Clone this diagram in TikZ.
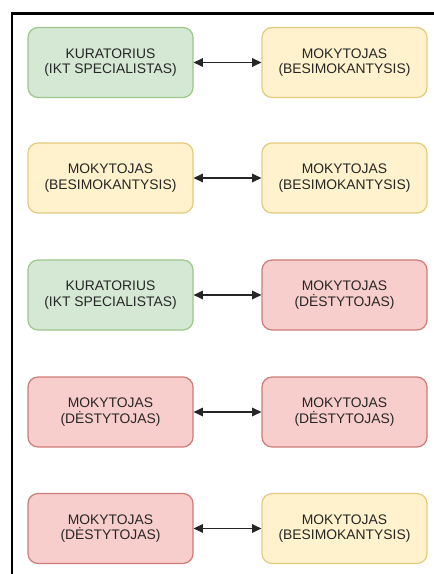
\documentclass[tikz,border=0pt]{standalone}
\usepackage{fontspec}
\setmainfont{Liberation Sans}
\usetikzlibrary{arrows.meta}
\definecolor{gfill}{HTML}{D5E8D4}\definecolor{gdraw}{HTML}{9CC68A}
\definecolor{yfill}{HTML}{FFF2CC}\definecolor{ydraw}{HTML}{E3CB7E}
\definecolor{rfill}{HTML}{F8CECC}\definecolor{rdraw}{HTML}{CC7D7A}
\definecolor{txt}{HTML}{262626}
\tikzset{
  role/.style={rectangle, rounded corners=10*0.75pt, line width=0.9pt,
    minimum width=165*0.75pt, minimum height=70*0.75pt, align=center,
    text=txt, font=\fontsize{10.4}{11.6}\selectfont, inner sep=0pt},
  kur/.style={role, fill=gfill, draw=gdraw},
  bes/.style={role, fill=yfill, draw=ydraw},
  des/.style={role, fill=rfill, draw=rdraw},
  link/.style={{Triangle[length=7pt,width=6.5pt]}-{Triangle[length=7pt,width=6.5pt]}, line width=0.9pt, draw=black!85},
}
\begin{document}
\begin{tikzpicture}[x=0.75pt,y=-0.75pt]
\useasboundingbox (0,0) rectangle (434,574);
% page frame
\coordinate (fl) at (12,574);
\coordinate (fc) at (12,13.5);
\coordinate (fr) at (434,13.5);
\draw[line width=1.7pt] (fl) -- (fc) -- (fr);
% rows
\node[kur] (a1) at (110.5,62.5) {KURATORIUS\\(IKT SPECIALISTAS)};
\node[bes] (b1) at (344.5,62.5) {MOKYTOJAS\\(BESIMOKANTYSIS)};
\node[bes] (a2) at (110.5,178) {MOKYTOJAS\\(BESIMOKANTYSIS)};
\node[bes] (b2) at (344.5,178) {MOKYTOJAS\\(BESIMOKANTYSIS)};
\node[kur] (a3) at (110.5,295) {KURATORIUS\\(IKT SPECIALISTAS)};
\node[des] (b3) at (344.5,295) {MOKYTOJAS\\(DĖSTYTOJAS)};
\node[des] (a4) at (110.5,412) {MOKYTOJAS\\(DĖSTYTOJAS)};
\node[des] (b4) at (344.5,412) {MOKYTOJAS\\(DĖSTYTOJAS)};
\node[des] (a5) at (110.5,528.5) {MOKYTOJAS\\(DĖSTYTOJAS)};
\node[bes] (b5) at (344.5,528.5) {MOKYTOJAS\\(BESIMOKANTYSIS)};
\foreach \i in {1,...,5} \draw[link] (a\i) -- (b\i);
\end{tikzpicture}
\end{document}
